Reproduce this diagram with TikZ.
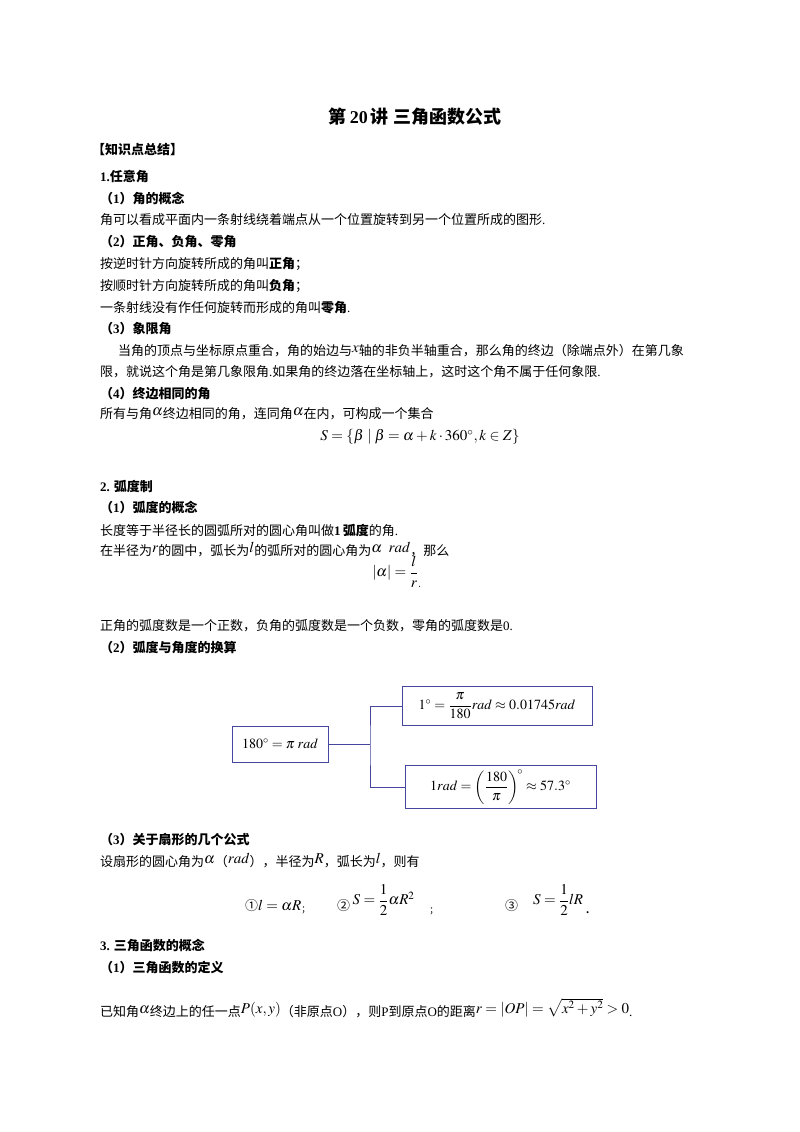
\documentclass[tikz,border=0pt]{standalone}
\usepackage{amsmath}
\usepackage{mathptmx}
\usepackage{fontspec}
\setmainfont{Noto Sans CJK SC}
\newfontfamily\lat{Liberation Serif}
\newcommand\upm[1]{\raisebox{3pt}{\fontsize{15}{17}\selectfont$#1$}}
\tikzset{t/.style={anchor=west,inner sep=0pt,font=\fontsize{13}{15}\selectfont},
 h/.style={t,font=\fontsize{13}{15}\selectfont\bfseries},
 bx/.style={draw=boxc,line width=1pt,inner sep=0pt,font=\fontsize{14}{16}\selectfont\lat},
 ln/.style={draw=boxc,line width=1pt}}
\definecolor{boxc}{RGB}{70,70,160}
\begin{document}
\begin{tikzpicture}[x=1pt,y=-1pt]
\useasboundingbox[fill=white] (0,0) rectangle (800,1132);
\node[anchor=center,inner sep=0pt,font=\fontsize{18}{20}\selectfont\bfseries] (title) at (415,117) {第\,{\lat\bfseries 20}\,讲 三角函数公式};
\node[h] (k) at (92,150) {【知识点总结】};
\node[h] (s1) at (100,177) {{\lat\bfseries 1.}任意角};
\node[h] (s11) at (100,199) {（{\lat\bfseries 1}）角的概念};
\node[t] (l1) at (100,220) {角可以看成平面内一条射线绕着端点从一个位置旋转到另一个位置所成的图形{\lat .}};
\node[h] (s12) at (100,242) {（{\lat\bfseries 2}）正角、负角、零角};
\node[t] (l2) at (100,264) {按逆时针方向旋转所成的角叫\textbf{正角}；};
\node[t] (l3) at (100,286) {按顺时针方向旋转所成的角叫\textbf{负角}；};
\node[t] (l4) at (100,308) {一条射线没有作任何旋转而形成的角叫\textbf{零角}{\lat .}};
\node[h] (s13) at (100,329) {（{\lat\bfseries 3}）象限角};
\node[t] (l5) at (118,351) {当角的顶点与坐标原点重合，角的始边与\upm{x}轴的非负半轴重合，那么角的终边（除端点外）在第几象};
\node[t] (l6) at (100,372) {限，就说这个角是第几象限角{\lat .}如果角的终边落在坐标轴上，这时这个角不属于任何象限{\lat .}};
\node[h] (s14) at (100,394) {（{\lat\bfseries 4}）终边相同的角};
\node[t] (l7) at (100,414) {所有与角\upm{\alpha}终边相同的角，连同角\upm{\alpha}在内，可构成一个集合};
\node[anchor=center,font=\fontsize{15}{17}\selectfont] (f1) at (420,437) {$S=\left\{\beta\mid\beta=\alpha+k\cdot 360^\circ,k\in Z\right\}$};
\node[h] (s2) at (100,486) {{\lat\bfseries 2.} 弧度制};
\node[h] (s21) at (100,508) {（{\lat\bfseries 1}）弧度的概念};
\node[t] (l8) at (100,530) {长度等于半径长的圆弧所对的圆心角叫做{\lat\bfseries 1}\,\textbf{弧度}的角{\lat .}};
\node[t] (l9) at (100,550) {在半径为\upm{r}的圆中，弧长为\upm{l}的弧所对的圆心角为\upm{\alpha\ \ rad}，那么};
\node[anchor=center,font=\fontsize{15}{17}\selectfont] (f2) at (397,572) {$|\alpha|=\dfrac{l}{r}_{.}$};
\node[t] (l10) at (100,626) {正角的弧度数是一个正数，负角的弧度数是一个负数，零角的弧度数是{\lat 0.}};
\node[h] (s22) at (100,648) {（{\lat\bfseries 2}）弧度与角度的换算};
\node[bx,minimum width=96pt,minimum height=36pt] (b1) at (280,744) {$180^\circ=\pi\;rad$};
\node[bx,minimum width=190pt,minimum height=39pt] (b2) at (497,706) {$1^\circ=\dfrac{\pi}{180}rad\approx 0.01745rad$};
\node[bx,minimum width=191pt,minimum height=43pt] (b3) at (500.5,787) {$1rad=\left(\dfrac{180}{\pi}\right)^{\!\circ}\approx 57.3^\circ$};
\coordinate (j) at (370,744);
\draw[ln] (b1.east) -- (j);
\draw[ln] (b2.west) -| (j) |- (b3.west);
\node[h] (s23) at (100,840) {（{\lat\bfseries 3}）关于扇形的几个公式};
\node[t] (l11) at (100,861) {设扇形的圆心角为\upm{\alpha}（\upm{rad}），半径为\upm{R}，弧长为\upm{l}，则有};
\node[t,font=\fontsize{15}{17}\selectfont] (f3) at (245,907) {{\fontsize{13}{15}\selectfont ①}$l=\alpha R$\raisebox{-2pt}{\fontsize{9}{10}\selectfont ；}};
\node[t,font=\fontsize{15}{17}\selectfont] (f4) at (337,900) {{\raisebox{-6pt}{\fontsize{13}{15}\selectfont ②}}\,$S=\dfrac{1}{2}\alpha R^2$\quad\raisebox{-9pt}{\fontsize{9}{10}\selectfont ；}};
\node[t,font=\fontsize{15}{17}\selectfont] (f5) at (505,900) {{\raisebox{-6pt}{\fontsize{13}{15}\selectfont ③}}\quad$S=\dfrac{1}{2}lR$\raisebox{-9pt}{\,.}};
\node[h] (s3) at (100,946) {{\lat\bfseries 3.} 三角函数的概念};
\node[h] (s31) at (100,968) {（{\lat\bfseries 1}）三角函数的定义};
\node[t] (l12) at (100,1008) {已知角\upm{\alpha}终边上的任一点\upm{P(x,y)}（非原点{\lat O}），则{\lat P}到原点{\lat O}的距离\upm{r=|OP|=\sqrt{x^2+y^2}>0}{\lat .}};
\end{tikzpicture}
\end{document}
